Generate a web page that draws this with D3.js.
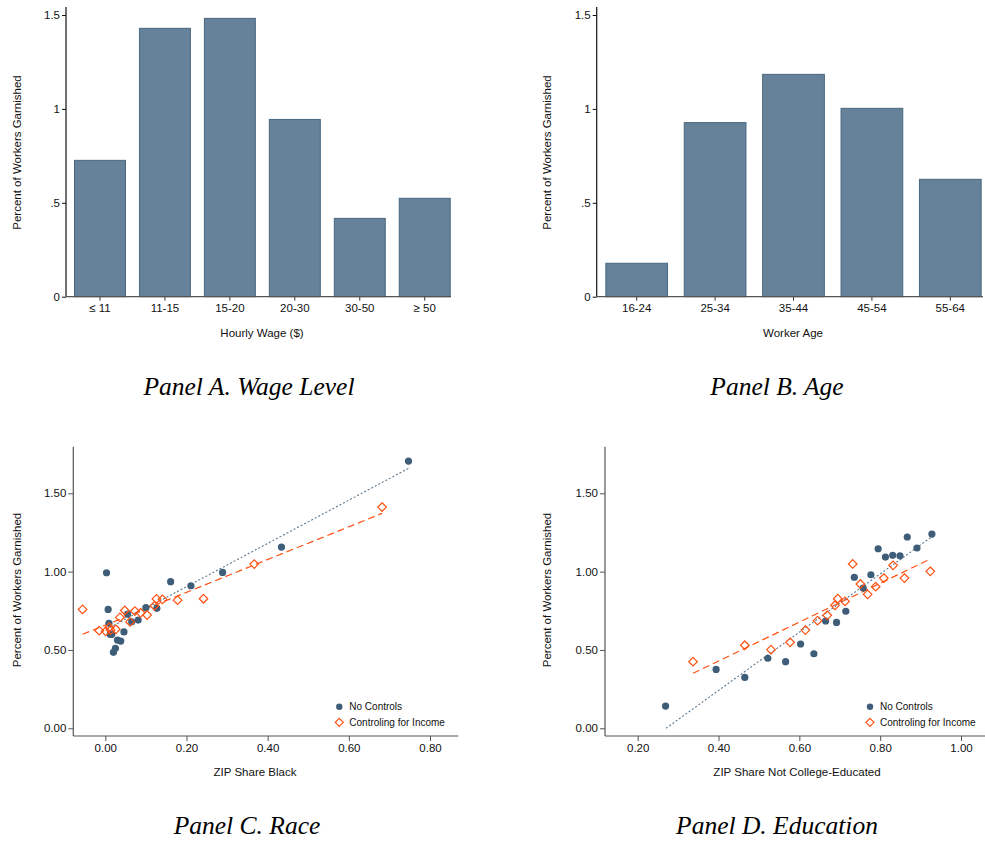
<!DOCTYPE html>
<html>
<head>
<meta charset="utf-8">
<script src="https://cdn.jsdelivr.net/npm/d3@7/dist/d3.min.js"></script>
<style>
  html, body { margin: 0; padding: 0; background: #fff; }
  svg { display: block; }
  .tick text { font-family: "Liberation Sans", Arial, sans-serif; fill: #111; }
</style>
</head>
<body>
<svg id="chart" width="985" height="844"></svg>
<script>
// ---------------- DATA ----------------
const wageCategories = ["\u2264 11", "11-15", "15-20", "20-30", "30-50", "\u2265 50"];
const wageValues = [0.726, 1.429, 1.482, 0.944, 0.417, 0.524];

const ageCategories = ["16-24", "25-34", "35-44", "45-54", "55-64"];
const ageValues = [0.178, 0.927, 1.184, 1.003, 0.625];

const barTickValues = [0, 0.5, 1, 1.5];
const barTickLabels = ["0", ".5", "1", "1.5"];

const scatterYTicks = [0, 0.5, 1, 1.5];
const scatterYTickLabels = ["0.00", "0.50", "1.00", "1.50"];
const raceXTicks = [0, 0.2, 0.4, 0.6, 0.8];
const raceXTickLabels = ["0.00", "0.20", "0.40", "0.60", "0.80"];
const eduXTicks = [0.2, 0.4, 0.6, 0.8, 1.0];
const eduXTickLabels = ["0.20", "0.40", "0.60", "0.80", "1.00"];

// Panel C: ZIP share Black
const raceNoControls = [
  [0.747, 1.706], [0.434, 1.157], [0.289, 0.995], [0.211, 0.910], [0.161, 0.936],
  [0.003, 0.993], [0.007, 0.759], [0.100, 0.770], [0.127, 0.766], [0.055, 0.729],
  [0.081, 0.691], [0.065, 0.680], [0.009, 0.670], [0.046, 0.615], [0.012, 0.600],
  [0.016, 0.600], [0.030, 0.563], [0.038, 0.557], [0.025, 0.511], [0.020, 0.485]
];
const raceIncome = [
  [-0.056, 0.759], [-0.015, 0.623], [0.001, 0.619], [0.010, 0.645], [0.013, 0.627],
  [0.026, 0.632], [0.036, 0.708], [0.048, 0.752], [0.061, 0.679], [0.073, 0.748],
  [0.087, 0.737], [0.103, 0.723], [0.121, 0.782], [0.126, 0.826], [0.141, 0.823],
  [0.178, 0.818], [0.242, 0.827], [0.367, 1.048], [0.682, 1.412]
];
const raceFitNoControls = [[0.003, 0.632], [0.747, 1.659]];
const raceFitIncome = [[-0.056, 0.600], [0.682, 1.372]];

// Panel D: ZIP share not college-educated
const eduNoControls = [
  [0.269, 0.142], [0.394, 0.376], [0.465, 0.325], [0.522, 0.447], [0.566, 0.425],
  [0.603, 0.538], [0.636, 0.476], [0.665, 0.685], [0.692, 0.676], [0.715, 0.747],
  [0.736, 0.964], [0.758, 0.895], [0.777, 0.980], [0.795, 1.146], [0.813, 1.093],
  [0.831, 1.104], [0.849, 1.101], [0.867, 1.221], [0.891, 1.151], [0.928, 1.240]
];
const eduIncome = [
  [0.337, 0.425], [0.465, 0.530], [0.530, 0.502], [0.577, 0.549], [0.615, 0.627],
  [0.645, 0.687], [0.669, 0.721], [0.688, 0.785], [0.695, 0.827], [0.713, 0.810],
  [0.732, 1.049], [0.751, 0.921], [0.769, 0.855], [0.789, 0.904], [0.809, 0.959],
  [0.832, 1.040], [0.860, 0.959], [0.924, 1.002]
];
const eduFitNoControls = [[0.270, 0.000], [0.928, 1.223]];
const eduFitIncome = [[0.337, 0.351], [0.924, 1.080]];

const legendLabels = ["No Controls", "Controling for Income"];
const yTitle = "Percent of Workers Garnished";

// ---------------- STYLE ----------------
const SANS = '"Liberation Sans", Arial, sans-serif';
const SERIF = '"Liberation Serif", "Times New Roman", serif';
const barFill = "#65829a";
const barStroke = "#48677f";
const blue = "#3d5d78";
const fitBlue = "#5a7890";
const orange = "#ff5010";
const axisGray = "#555";

const svg = d3.select("#chart");
svg.append("rect").attr("width", 985).attr("height", 844).attr("fill", "#fff");

function panelTitle(text, cx, y) {
  svg.append("text").attr("x", cx).attr("y", y)
    .attr("text-anchor", "middle")
    .attr("font-family", SERIF).attr("font-style", "italic")
    .attr("font-size", 25.5).attr("fill", "#000")
    .text(text);
}

function yAxisTitle(cx, cy) {
  svg.append("text")
    .attr("transform", `translate(${cx},${cy}) rotate(-90)`)
    .attr("text-anchor", "middle").attr("dominant-baseline", "central")
    .attr("font-family", SANS).attr("font-size", 11.5).attr("fill", "#111")
    .text(yTitle);
}

function xAxisTitle(text, cx, cy) {
  svg.append("text").attr("x", cx).attr("y", cy)
    .attr("text-anchor", "middle").attr("dominant-baseline", "central")
    .attr("font-family", SANS).attr("font-size", 11.5).attr("fill", "#111")
    .text(text);
}

function barPanel(cats, vals, opt) {
  const g = svg.append("g");
  const x = d3.scaleBand().domain(cats).range(opt.xr).paddingInner(0.2).paddingOuter(0.1);
  const y = d3.scaleLinear().domain([0, 1.5]).range([296.7, 15]);

  g.selectAll("rect.bar").data(cats).join("rect")
    .attr("class", "bar")
    .attr("x", d => x(d) + 0.5)
    .attr("width", x.bandwidth() - 1)
    .attr("y", (d, i) => y(vals[i]))
    .attr("height", (d, i) => y(0) - y(vals[i]))
    .attr("fill", barFill).attr("stroke", barStroke).attr("stroke-width", 1);

  // y axis
  const ya = g.append("g").attr("transform", `translate(${opt.axisX},0)`)
    .call(d3.axisLeft(y).tickValues(barTickValues).tickFormat((d, i) => barTickLabels[i])
      .tickSize(4).tickSizeOuter(0).tickPadding(2));
  ya.select(".domain").remove();
  ya.selectAll(".tick line").attr("stroke", "#111");
  ya.selectAll(".tick text").attr("font-size", 11.5).attr("font-family", SANS);
  g.append("line").attr("x1", opt.axisX).attr("x2", opt.axisX).attr("y1", 7).attr("y2", y(0))
    .attr("stroke", "#111").attr("stroke-width", 1.2);

  // x axis
  const xa = g.append("g").attr("transform", `translate(0,${y(0)})`)
    .call(d3.axisBottom(x).tickSize(4).tickSizeOuter(0).tickPadding(3));
  xa.select(".domain").remove();
  xa.selectAll(".tick line").attr("stroke", "#333");
  xa.selectAll(".tick text").attr("font-size", 11.5).attr("font-family", SANS);
  g.append("line").attr("x1", opt.axisX).attr("x2", opt.xEnd).attr("y1", y(0)).attr("y2", y(0))
    .attr("stroke", axisGray).attr("stroke-width", 1.2);
}

function diamondPath(cx, cy, r) {
  return `M${cx},${cy - r}L${cx + r},${cy}L${cx},${cy + r}L${cx - r},${cy}Z`;
}

function scatterPanel(ptsA, ptsB, fitA, fitB, opt) {
  const g = svg.append("g");
  const x = d3.scaleLinear().domain(opt.xd).range(opt.xr);
  const y = d3.scaleLinear().domain([0, 1.5]).range([728.3, 493.3]);
  const axisY = 736;

  // axes lines
  g.append("line").attr("x1", opt.axisX).attr("x2", opt.axisX).attr("y1", 446.7).attr("y2", axisY)
    .attr("stroke", axisGray).attr("stroke-width", 1.2);
  g.append("line").attr("x1", opt.axisX).attr("x2", opt.xEnd).attr("y1", axisY).attr("y2", axisY)
    .attr("stroke", axisGray).attr("stroke-width", 1.2);

  const ya = g.append("g").attr("transform", `translate(${opt.axisX},0)`)
    .call(d3.axisLeft(y).tickValues(scatterYTicks).tickFormat((d, i) => scatterYTickLabels[i])
      .tickSize(5).tickSizeOuter(0).tickPadding(2));
  ya.select(".domain").remove();
  ya.selectAll(".tick line").attr("stroke", axisGray);
  ya.selectAll(".tick text").attr("font-size", 11.5).attr("font-family", SANS);

  const xa = g.append("g").attr("transform", `translate(0,${axisY})`)
    .call(d3.axisBottom(x).tickValues(opt.xt).tickFormat((d, i) => opt.xtl[i])
      .tickSize(5).tickSizeOuter(0).tickPadding(3));
  xa.select(".domain").remove();
  xa.selectAll(".tick line").attr("stroke", axisGray);
  xa.selectAll(".tick text").attr("font-size", 11.5).attr("font-family", SANS);

  const line = d3.line().x(d => x(d[0])).y(d => y(d[1]));
  // fit lines
  g.append("path").attr("d", line(fitB)).attr("fill", "none")
    .attr("stroke", orange).attr("stroke-width", 1.2).attr("stroke-dasharray", "7,4");
  g.append("path").attr("d", line(fitA)).attr("fill", "none")
    .attr("stroke", fitBlue).attr("stroke-width", 1.1).attr("stroke-dasharray", "2,2");

  // points
  g.selectAll("circle.nc").data(ptsA).join("circle").attr("class", "nc")
    .attr("cx", d => x(d[0])).attr("cy", d => y(d[1])).attr("r", 3.6)
    .attr("fill", blue);
  g.selectAll("path.inc").data(ptsB).join("path").attr("class", "inc")
    .attr("d", d => diamondPath(x(d[0]), y(d[1]), 4.3))
    .attr("fill", "none").attr("stroke", orange).attr("stroke-width", 1.2);

  // legend
  const lx = opt.legendX;
  g.append("circle").attr("cx", lx).attr("cy", 706.7).attr("r", 3.2).attr("fill", blue);
  g.append("path").attr("d", diamondPath(lx, 722.3, 4)).attr("fill", "none")
    .attr("stroke", orange).attr("stroke-width", 1.2);
  [706.7, 722.3].forEach((yy, i) => {
    g.append("text").attr("x", lx + 10).attr("y", yy).attr("dominant-baseline", "central")
      .attr("font-family", SANS).attr("font-size", 10).attr("fill", "#111")
      .text(legendLabels[i]);
  });
}

// Panel A
barPanel(wageCategories, wageValues, { xr: [67.5, 457.2], axisX: 66, xEnd: 451 });
yAxisTitle(17, 152.5);
xAxisTitle("Hourly Wage ($)", 262, 333);
panelTitle("Panel A.  Wage Level", 249, 395);

// Panel B
barPanel(ageCategories, ageValues, { xr: [597.5, 989.5], axisX: 596.7, xEnd: 983 });
yAxisTitle(547, 152.5);
xAxisTitle("Worker Age", 793, 333);
panelTitle("Panel B.  Age", 777, 395);

// Panel C
scatterPanel(raceNoControls, raceIncome, raceFitNoControls, raceFitIncome, {
  xd: [0, 0.8], xr: [105.3, 430], axisX: 73.3, xEnd: 458.3,
  xt: raceXTicks, xtl: raceXTickLabels, legendX: 339.3
});
yAxisTitle(17, 590);
xAxisTitle("ZIP Share Black", 255, 772);
panelTitle("Panel C.  Race", 247, 834);

// Panel D
scatterPanel(eduNoControls, eduIncome, eduFitNoControls, eduFitIncome, {
  xd: [0.2, 1.0], xr: [637.7, 961], axisX: 605, xEnd: 985,
  xt: eduXTicks, xtl: eduXTickLabels, legendX: 870
});
yAxisTitle(547, 590);
xAxisTitle("ZIP Share Not College-Educated", 797, 772);
panelTitle("Panel D.  Education", 777, 834);
</script>
</body>
</html>
